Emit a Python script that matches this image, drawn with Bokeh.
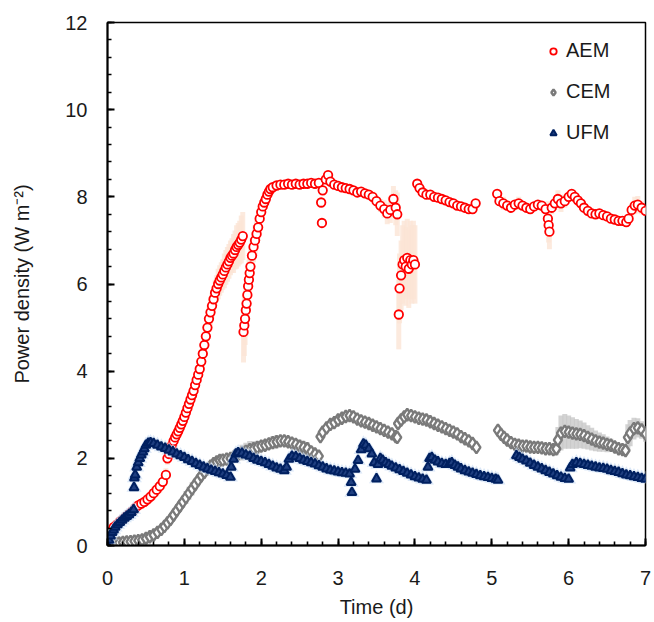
from bokeh.plotting import figure
from bokeh.models import Range1d, Legend, LegendItem, SingleIntervalTicker, ColumnDataSource
from bokeh.embed import file_html
from bokeh.resources import INLINE

# ---------------- data ----------------
x_ticks = [0, 1, 2, 3, 4, 5, 6, 7]
y_ticks = [0, 2, 4, 6, 8, 10, 12]
series_names = ["AEM", "CEM", "UFM"]

aem_t = [0.00, 0.04, 0.08, 0.12, 0.16, 0.20, 0.24, 0.28, 0.32, 0.36,
         0.40, 0.44, 0.48, 0.52, 0.56, 0.60, 0.64, 0.68, 0.72, 0.76,
         0.78, 0.80, 0.82, 0.84, 0.86, 0.88, 0.90, 0.92, 0.94, 0.96,
         0.98, 1.00, 1.02, 1.04, 1.06, 1.08, 1.10, 1.12, 1.14, 1.16,
         1.18, 1.20, 1.22, 1.24, 1.26, 1.28, 1.30, 1.32, 1.34, 1.36,
         1.38, 1.40, 1.42, 1.44, 1.46, 1.48, 1.50, 1.52, 1.54, 1.56,
         1.58, 1.60, 1.62, 1.64, 1.66, 1.68, 1.70, 1.72, 1.74, 1.76,
         1.77, 1.78, 1.79, 1.80, 1.81, 1.82, 1.83, 1.84, 1.85, 1.86,
         1.88, 1.90, 1.92, 1.94, 1.96, 1.98, 2.00, 2.02, 2.04, 2.06,
         2.08, 2.10, 2.12, 2.15, 2.20, 2.25, 2.30, 2.35, 2.40, 2.45,
         2.50, 2.55, 2.60, 2.65, 2.70, 2.75, 2.78, 2.79, 2.80, 2.84,
         2.87, 2.90, 2.95, 3.00, 3.05, 3.10, 3.15, 3.20, 3.25, 3.30,
         3.35, 3.40, 3.45, 3.50, 3.55, 3.60, 3.64, 3.68, 3.72, 3.75,
         3.77, 3.79, 3.80, 3.82, 3.84, 3.86, 3.88, 3.90, 3.92, 3.94,
         3.96, 3.98, 4.00, 4.03, 4.06, 4.10, 4.15, 4.20, 4.25, 4.30,
         4.35, 4.40, 4.45, 4.50, 4.55, 4.60, 4.65, 4.70, 4.75, 4.79,
         5.07, 5.10, 5.15, 5.20, 5.25, 5.30, 5.35, 5.40, 5.45, 5.50,
         5.55, 5.60, 5.65, 5.70, 5.73, 5.74, 5.75, 5.78, 5.82, 5.86,
         5.90, 5.95, 6.00, 6.04, 6.08, 6.12, 6.16, 6.20, 6.25, 6.30,
         6.35, 6.40, 6.45, 6.50, 6.55, 6.60, 6.65, 6.70, 6.75, 6.78,
         6.82, 6.86, 6.90, 6.95, 7.00]
aem_y = [0.22, 0.32, 0.42, 0.48, 0.55, 0.60, 0.66, 0.72, 0.78, 0.86,
         0.92, 0.96, 1.00, 1.06, 1.12, 1.20, 1.28, 1.36, 1.46, 1.62,
         2.00, 2.10, 2.20, 2.30, 2.40, 2.48, 2.55, 2.62, 2.70, 2.78,
         2.86, 2.95, 3.05, 3.15, 3.25, 3.35, 3.45, 3.55, 3.68, 3.80,
         3.92, 4.05, 4.22, 4.40, 4.60, 4.80, 5.00, 5.20, 5.35, 5.50,
         5.65, 5.80, 5.90, 6.00, 6.08, 6.15, 6.22, 6.30, 6.38, 6.45,
         6.52, 6.60, 6.65, 6.70, 6.78, 6.85, 6.90, 6.95, 7.02, 7.10,
         4.90, 5.05, 5.20, 5.40, 5.55, 5.75, 5.95, 6.10, 6.25, 6.40,
         6.65, 6.85, 7.00, 7.15, 7.30, 7.50, 7.65, 7.78, 7.87, 7.95,
         8.05, 8.12, 8.18, 8.22, 8.26, 8.28, 8.28, 8.30, 8.28, 8.30,
         8.28, 8.30, 8.30, 8.32, 8.30, 8.32, 7.87, 7.40, 8.15, 8.40,
         8.50, 8.35, 8.28, 8.25, 8.22, 8.20, 8.18, 8.15, 8.10, 8.12,
         8.08, 8.05, 8.00, 7.90, 7.80, 7.72, 7.62, 7.70, 7.95, 7.75,
         7.60, 5.30, 5.90, 6.20, 6.45, 6.55, 6.40, 6.60, 6.35, 6.55,
         6.45, 6.55, 6.45, 8.30, 8.20, 8.10, 8.05, 8.05, 8.00, 7.98,
         7.95, 7.92, 7.88, 7.85, 7.80, 7.78, 7.75, 7.72, 7.72, 7.85,
         8.07, 7.90, 7.85, 7.80, 7.75, 7.82, 7.85, 7.80, 7.75, 7.72,
         7.78, 7.82, 7.80, 7.72, 7.50, 7.35, 7.20, 7.75, 7.85, 7.95,
         7.85, 7.90, 8.00, 8.07, 8.00, 7.92, 7.85, 7.75, 7.68, 7.62,
         7.60, 7.62, 7.58, 7.55, 7.50, 7.48, 7.45, 7.45, 7.42, 7.50,
         7.70, 7.80, 7.82, 7.75, 7.68]
aem_sd = [0.08, 0.08, 0.08, 0.08, 0.08, 0.08, 0.08, 0.08, 0.08, 0.08,
          0.10, 0.10, 0.12, 0.12, 0.12, 0.15, 0.15, 0.15, 0.15, 0.15,
          0.15, 0.15, 0.15, 0.15, 0.15, 0.15, 0.15, 0.15, 0.15, 0.15,
          0.15, 0.15, 0.15, 0.15, 0.20, 0.20, 0.20, 0.20, 0.20, 0.20,
          0.20, 0.20, 0.25, 0.25, 0.25, 0.25, 0.30, 0.30, 0.30, 0.30,
          0.30, 0.30, 0.30, 0.35, 0.35, 0.35, 0.35, 0.40, 0.40, 0.40,
          0.40, 0.40, 0.40, 0.45, 0.45, 0.50, 0.50, 0.50, 0.55, 0.55,
          0.70, 0.70, 0.60, 0.60, 0.50, 0.50, 0.50, 0.45, 0.45, 0.40,
          0.40, 0.35, 0.35, 0.30, 0.30, 0.25, 0.20, 0.15, 0.12, 0.10,
          0.10, 0.08, 0.08, 0.06, 0.06, 0.06, 0.06, 0.06, 0.06, 0.06,
          0.06, 0.06, 0.06, 0.06, 0.06, 0.08, 0.10, 0.10, 0.10, 0.10,
          0.10, 0.10, 0.10, 0.10, 0.10, 0.10, 0.10, 0.10, 0.10, 0.10,
          0.10, 0.10, 0.12, 0.12, 0.15, 0.20, 0.25, 0.30, 0.30, 0.40,
          0.50, 0.80, 0.80, 0.80, 0.90, 0.90, 0.90, 0.90, 0.90, 0.90,
          0.90, 0.90, 0.90, 0.10, 0.10, 0.10, 0.10, 0.10, 0.10, 0.10,
          0.10, 0.10, 0.10, 0.10, 0.10, 0.10, 0.10, 0.10, 0.10, 0.10,
          0.10, 0.10, 0.15, 0.10, 0.10, 0.10, 0.15, 0.10, 0.10, 0.10,
          0.10, 0.10, 0.10, 0.10, 0.40, 0.40, 0.40, 0.15, 0.15, 0.20,
          0.20, 0.15, 0.12, 0.10, 0.10, 0.10, 0.10, 0.10, 0.10, 0.10,
          0.10, 0.10, 0.10, 0.10, 0.10, 0.10, 0.10, 0.10, 0.10, 0.10,
          0.15, 0.20, 0.20, 0.15, 0.10]

cem_t = [0.00, 0.05, 0.10, 0.15, 0.20, 0.25, 0.30, 0.35, 0.40, 0.45,
         0.50, 0.55, 0.60, 0.65, 0.70, 0.74, 0.78, 0.82, 0.86, 0.90,
         0.94, 0.98, 1.02, 1.06, 1.10, 1.14, 1.18, 1.22, 1.26, 1.30,
         1.34, 1.38, 1.42, 1.46, 1.50, 1.55, 1.60, 1.65, 1.70, 1.75,
         1.80, 1.85, 1.90, 1.95, 2.00, 2.05, 2.10, 2.15, 2.20, 2.25,
         2.30, 2.35, 2.40, 2.45, 2.50, 2.55, 2.60, 2.65, 2.70, 2.75,
         2.77, 2.80, 2.85, 2.90, 2.95, 3.00, 3.05, 3.10, 3.15, 3.20,
         3.25, 3.30, 3.35, 3.40, 3.45, 3.50, 3.55, 3.60, 3.65, 3.70,
         3.75, 3.77, 3.78, 3.82, 3.86, 3.90, 3.95, 4.00, 4.05, 4.10,
         4.15, 4.20, 4.25, 4.30, 4.35, 4.40, 4.45, 4.50, 4.55, 4.60,
         4.65, 4.70, 4.75, 4.80, 5.08, 5.12, 5.16, 5.20, 5.25, 5.30,
         5.35, 5.40, 5.45, 5.50, 5.55, 5.60, 5.65, 5.70, 5.75, 5.80,
         5.84, 5.86, 5.90, 5.95, 6.00, 6.05, 6.10, 6.15, 6.20, 6.25,
         6.30, 6.35, 6.40, 6.45, 6.50, 6.55, 6.60, 6.65, 6.70, 6.74,
         6.77, 6.80, 6.85, 6.90, 6.95, 7.00]
cem_y = [0.02, 0.04, 0.05, 0.06, 0.07, 0.08, 0.09, 0.10, 0.11, 0.13,
         0.16, 0.20, 0.24, 0.30, 0.37, 0.44, 0.52, 0.60, 0.70, 0.80,
         0.90, 1.00, 1.10, 1.20, 1.30, 1.40, 1.50, 1.60, 1.68, 1.76,
         1.82, 1.88, 1.92, 1.95, 1.96, 1.98, 2.00, 2.05, 2.10, 2.13,
         2.16, 2.20, 2.22, 2.25, 2.28, 2.30, 2.33, 2.36, 2.38, 2.40,
         2.40, 2.38, 2.35, 2.32, 2.28, 2.25, 2.22, 2.15, 2.10, 2.05,
         2.50, 2.60, 2.70, 2.78, 2.82, 2.88, 2.92, 2.96, 2.98, 2.95,
         2.90, 2.86, 2.83, 2.80, 2.76, 2.72, 2.68, 2.64, 2.60, 2.56,
         2.50, 2.48, 2.80, 2.88, 2.95, 3.00, 2.98, 2.95, 2.92, 2.90,
         2.88, 2.84, 2.80, 2.76, 2.72, 2.68, 2.64, 2.60, 2.56, 2.50,
         2.45, 2.40, 2.34, 2.25, 2.64, 2.55, 2.48, 2.42, 2.36, 2.32,
         2.30, 2.28, 2.28, 2.26, 2.25, 2.25, 2.24, 2.22, 2.22, 2.20,
         2.22, 2.42, 2.58, 2.62, 2.60, 2.58, 2.56, 2.55, 2.52, 2.48,
         2.44, 2.40, 2.37, 2.35, 2.32, 2.30, 2.26, 2.22, 2.20, 2.18,
         2.48, 2.58, 2.68, 2.70, 2.65, 2.56]
cem_sd = [0.03, 0.03, 0.03, 0.03, 0.03, 0.03, 0.03, 0.03, 0.03, 0.03,
          0.03, 0.04, 0.05, 0.05, 0.06, 0.06, 0.08, 0.08, 0.10, 0.10,
          0.12, 0.12, 0.15, 0.15, 0.15, 0.12, 0.12, 0.10, 0.10, 0.10,
          0.10, 0.10, 0.10, 0.10, 0.10, 0.10, 0.10, 0.12, 0.15, 0.18,
          0.20, 0.20, 0.18, 0.15, 0.12, 0.12, 0.12, 0.15, 0.15, 0.12,
          0.12, 0.12, 0.12, 0.12, 0.15, 0.15, 0.15, 0.12, 0.10, 0.10,
          0.10, 0.10, 0.10, 0.08, 0.08, 0.08, 0.08, 0.08, 0.08, 0.08,
          0.08, 0.08, 0.08, 0.08, 0.08, 0.08, 0.08, 0.08, 0.08, 0.08,
          0.08, 0.08, 0.10, 0.10, 0.10, 0.08, 0.08, 0.08, 0.08, 0.08,
          0.08, 0.08, 0.08, 0.08, 0.08, 0.08, 0.08, 0.08, 0.08, 0.08,
          0.08, 0.08, 0.08, 0.08, 0.10, 0.10, 0.10, 0.10, 0.10, 0.10,
          0.10, 0.10, 0.10, 0.10, 0.10, 0.10, 0.10, 0.10, 0.10, 0.12,
          0.15, 0.30, 0.40, 0.40, 0.38, 0.36, 0.34, 0.32, 0.30, 0.28,
          0.26, 0.24, 0.22, 0.20, 0.18, 0.15, 0.12, 0.10, 0.10, 0.10,
          0.30, 0.30, 0.25, 0.22, 0.20, 0.18]

ufm_t = [0.00, 0.02, 0.04, 0.06, 0.08, 0.10, 0.13, 0.16, 0.19, 0.22,
         0.25, 0.28, 0.31, 0.34, 0.345, 0.35, 0.36, 0.38, 0.40, 0.42,
         0.44, 0.46, 0.48, 0.50, 0.53, 0.56, 0.60, 0.65, 0.70, 0.75,
         0.80, 0.85, 0.90, 0.95, 1.00, 1.05, 1.10, 1.15, 1.20, 1.25,
         1.30, 1.35, 1.40, 1.45, 1.50, 1.55, 1.60, 1.61, 1.64, 1.67,
         1.70, 1.75, 1.80, 1.85, 1.90, 1.95, 2.00, 2.05, 2.10, 2.15,
         2.20, 2.25, 2.30, 2.33, 2.36, 2.40, 2.45, 2.50, 2.55, 2.60,
         2.65, 2.70, 2.75, 2.80, 2.85, 2.90, 2.95, 3.00, 3.05, 3.10,
         3.15, 3.17, 3.18, 3.22, 3.26, 3.30, 3.33, 3.36, 3.40, 3.44,
         3.47, 3.50, 3.52, 3.55, 3.58, 3.62, 3.66, 3.70, 3.75, 3.80,
         3.85, 3.90, 3.95, 4.00, 4.05, 4.10, 4.15, 4.17, 4.19, 4.22,
         4.26, 4.30, 4.35, 4.40, 4.45, 4.48, 4.52, 4.56, 4.60, 4.65,
         4.70, 4.75, 4.80, 4.85, 4.90, 4.95, 5.00, 5.05, 5.08, 5.32,
         5.36, 5.40, 5.45, 5.50, 5.55, 5.60, 5.65, 5.70, 5.75, 5.80,
         5.85, 5.90, 5.95, 6.00, 6.02, 6.05, 6.10, 6.15, 6.20, 6.25,
         6.30, 6.35, 6.40, 6.45, 6.50, 6.55, 6.60, 6.65, 6.70, 6.75,
         6.80, 6.85, 6.90, 6.95, 7.00]
ufm_y = [0.00, 0.12, 0.22, 0.30, 0.36, 0.42, 0.48, 0.53, 0.58, 0.63,
         0.67, 0.71, 0.76, 0.82, 1.33, 1.55, 1.62, 1.80, 1.90, 2.00,
         2.08, 2.15, 2.22, 2.30, 2.35, 2.36, 2.34, 2.30, 2.26, 2.23,
         2.19, 2.15, 2.10, 2.06, 2.02, 1.97, 1.93, 1.88, 1.84, 1.80,
         1.76, 1.73, 1.70, 1.67, 1.64, 1.61, 1.57, 1.80, 1.98, 2.10,
         2.13, 2.12, 2.08, 2.05, 2.00, 1.96, 1.93, 1.90, 1.86, 1.82,
         1.78, 1.75, 1.72, 1.80, 1.98, 2.05, 2.04, 2.00, 1.96, 1.93,
         1.90, 1.87, 1.83, 1.80, 1.76, 1.73, 1.71, 1.69, 1.67, 1.66,
         1.64, 1.45, 1.22, 1.75, 1.95, 2.20, 2.33, 2.30, 2.22, 2.10,
         1.90, 1.53, 1.86, 2.00, 1.96, 1.90, 1.86, 1.82, 1.78, 1.74,
         1.70, 1.66, 1.62, 1.58, 1.55, 1.52, 1.50, 1.80, 2.00, 2.02,
         1.96, 1.92, 1.88, 1.86, 1.88, 1.90, 1.84, 1.80, 1.76, 1.72,
         1.69, 1.66, 1.63, 1.60, 1.58, 1.56, 1.54, 1.52, 1.50, 2.06,
         2.02, 1.98, 1.94, 1.89, 1.84, 1.80, 1.76, 1.72, 1.68, 1.64,
         1.60, 1.57, 1.54, 1.52, 1.78, 1.86, 1.90, 1.88, 1.86, 1.84,
         1.82, 1.80, 1.78, 1.77, 1.75, 1.72, 1.70, 1.68, 1.65, 1.62,
         1.60, 1.58, 1.56, 1.54, 1.52]

assert len(aem_t) == len(aem_y) == len(aem_sd), (len(aem_t), len(aem_y), len(aem_sd))
assert len(cem_t) == len(cem_y) == len(cem_sd), (len(cem_t), len(cem_y), len(cem_sd))
assert len(ufm_t) == len(ufm_y), (len(ufm_t), len(ufm_y))

# ---------------- figure ----------------
FONT = "Liberation Sans"
TXT = "#1a1a1a"

p = figure(width=654, height=622, x_range=Range1d(0, 7), y_range=Range1d(0, 12),
           output_backend="svg", toolbar_location=None,
           min_border_left=107, min_border_right=9, min_border_top=22, min_border_bottom=77)
p.background_fill_color = "white"
p.border_fill_color = "white"
p.grid.visible = False
p.outline_line_color = "black"
p.outline_line_width = 1.5

p.xaxis.ticker = SingleIntervalTicker(interval=1, num_minor_ticks=5)
p.yaxis.ticker = SingleIntervalTicker(interval=2, num_minor_ticks=5)
p.xaxis.major_label_overrides = {t: str(t) for t in x_ticks}
p.yaxis.major_label_overrides = {t: str(t) for t in y_ticks}
for ax in (p.xaxis[0], p.yaxis[0]):
    ax.axis_line_width = 2
    ax.axis_line_color = "black"
    ax.major_tick_in = 7
    ax.major_tick_out = 0
    ax.minor_tick_in = 4
    ax.minor_tick_out = 0
    ax.major_tick_line_width = 2
    ax.minor_tick_line_width = 1.6
    ax.major_tick_line_color = "black"
    ax.minor_tick_line_color = "black"
    ax.major_label_text_font = FONT
    ax.major_label_text_font_size = "20px"
    ax.major_label_text_color = TXT
    ax.axis_label_text_font = FONT
    ax.axis_label_text_font_size = "20px"
    ax.axis_label_text_font_style = "normal"
    ax.axis_label_text_color = TXT

p.xaxis.axis_label = "Time (d)"
p.yaxis.axis_label = "Power density (W m\u207b\u00b2)"
p.xaxis.major_label_standoff = 25
p.xaxis.axis_label_standoff = 8
p.yaxis.major_label_standoff = 20
p.yaxis.axis_label_standoff = 29

# error bands as vertical streaks
aem_src = ColumnDataSource(dict(t=aem_t, y=aem_y,
                                lo=[a - b for a, b in zip(aem_y, aem_sd)],
                                hi=[a + b for a, b in zip(aem_y, aem_sd)]))
cem_src = ColumnDataSource(dict(t=cem_t, y=cem_y,
                                lo=[a - b for a, b in zip(cem_y, cem_sd)],
                                hi=[a + b for a, b in zip(cem_y, cem_sd)]))
ufm_src = ColumnDataSource(dict(t=ufm_t, y=ufm_y))

p.segment(x0="t", y0="lo", x1="t", y1="hi", source=cem_src,
          line_color="#c8c8c8", line_width=5, line_alpha=0.8)
p.segment(x0="t", y0="lo", x1="t", y1="hi", source=aem_src,
          line_color="#fbe5d6", line_width=5, line_alpha=0.8)

r_cem = p.scatter("t", "y", source=cem_src, marker="diamond", size=12,
                  line_color="#7a7a7a", fill_color="white", line_width=2.4)
r_aem = p.scatter("t", "y", source=aem_src, marker="circle", size=8.5,
                  line_color="#ff0000", fill_color="white", line_width=1.8)
p.scatter("t", "y", source=ufm_src, marker="triangle", size=15,
          line_color=None, fill_color="#c5d9f1", fill_alpha=0.6)
r_ufm = p.scatter("t", "y", source=ufm_src, marker="triangle", size=9,
                  line_color="#002060", fill_color="#1f3f80", line_width=2)

legend = Legend(items=[LegendItem(label=series_names[0], renderers=[r_aem]),
                       LegendItem(label=series_names[1], renderers=[r_cem]),
                       LegendItem(label=series_names[2], renderers=[r_ufm])],
                location=(438, 401), orientation="vertical",
                label_text_font=FONT, label_text_font_size="20px", label_text_color=TXT,
                glyph_width=16, glyph_height=16, label_height=20, spacing=18,
                label_standoff=5, padding=0, margin=0,
                border_line_color=None, background_fill_alpha=0)
p.add_layout(legend, "center")

open("out.html", "w").write(file_html(p, INLINE))
